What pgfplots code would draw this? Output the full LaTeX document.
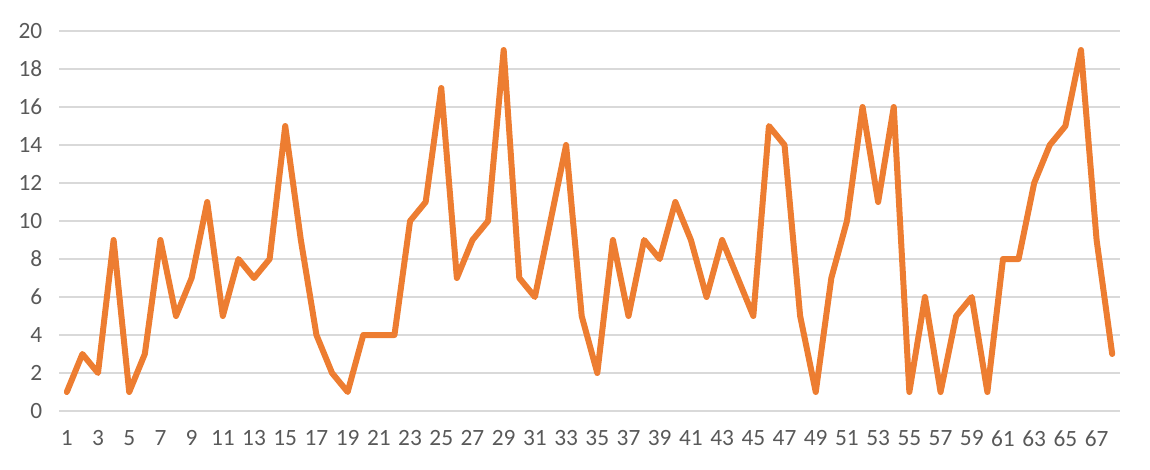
\documentclass[border=0pt]{standalone}
\usepackage{pgfplots}
\pgfplotsset{compat=1.18}
\usepackage{fontspec}
\setmainfont{Carlito}
\definecolor{lineorange}{HTML}{ED7D31}
\definecolor{gridgray}{HTML}{D9D9D9}
\definecolor{labelgray}{HTML}{595959}
\begin{document}
\begin{tikzpicture}
\path[use as bounding box] (0,0) rectangle (862.5pt,351.75pt);
\begin{axis}[
  at={(44.25pt,43.5pt)}, anchor=south west,
  scale only axis, width=795.75pt, height=285pt,
  xmin=0.5, xmax=68.5, ymin=0, ymax=20,
  xtick={1,3,...,67}, ytick={0,2,...,20},
  ymajorgrids, grid style={gridgray, line width=1.1pt},
  axis line style={draw=none},
  major tick length=0pt,
  /pgf/number format/assume math mode=true,
  tick label style={font=\fontsize{17.5}{21}\selectfont, text=labelgray},
  xticklabel style={yshift=-11pt},
  yticklabel style={xshift=-9pt},
  clip=false,
]
\addplot[lineorange, line width=4.5pt, line join=round, line cap=round] coordinates {
(1,1)(2,3)(3,2)(4,9)(5,1)(6,3)(7,9)(8,5)(9,7)(10,11)
(11,5)(12,8)(13,7)(14,8)(15,15)(16,9)(17,4)(18,2)(19,1)(20,4)
(21,4)(22,4)(23,10)(24,11)(25,17)(26,7)(27,9)(28,10)(29,19)(30,7)
(31,6)(32,10)(33,14)(34,5)(35,2)(36,9)(37,5)(38,9)(39,8)(40,11)
(41,9)(42,6)(43,9)(44,7)(45,5)(46,15)(47,14)(48,5)(49,1)(50,7)
(51,10)(52,16)(53,11)(54,16)(55,1)(56,6)(57,1)(58,5)(59,6)(60,1)
(61,8)(62,8)(63,12)(64,14)(65,15)(66,19)(67,9)(68,3)
};
\end{axis}
\end{tikzpicture}
\end{document}
